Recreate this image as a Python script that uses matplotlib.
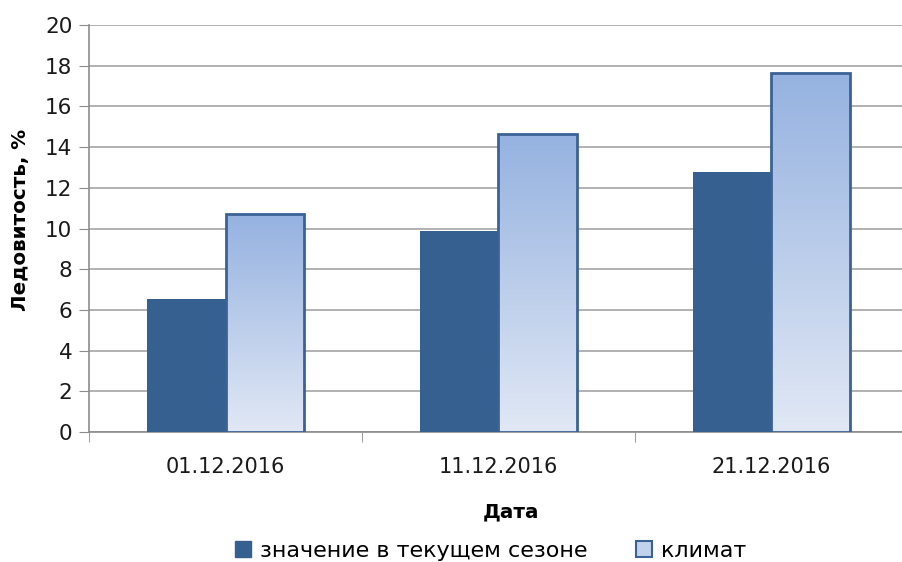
import numpy as np
import matplotlib.pyplot as plt
from matplotlib.patches import Patch

dates = ["01.12.2016", "11.12.2016", "21.12.2016"]
current = [6.56, 9.87, 12.76]
climate = [10.69, 14.63, 17.66]

dark = "#36608f"
edge = "#3b6296"

plt.rcParams['font.family'] = ['DejaVu Sans']

fig = plt.figure(figsize=(9.02, 5.62), dpi=100)
ax = fig.add_axes([0.0987, 0.2313, 0.9079, 0.7242])

x = np.arange(len(dates))
w = 0.286

ax.bar(x - w / 2, current, w, color=dark, zorder=3)
bars = ax.bar(x + w / 2, climate, w, facecolor="none", edgecolor=edge, linewidth=2, zorder=4)

# vertical gradient inside the climate bars
grad = np.linspace(0, 1, 256).reshape(-1, 1)
cmap = plt.matplotlib.colors.LinearSegmentedColormap.from_list("g", ["#e1e8f5", "#95b2e0"])
for b in bars:
    x0, y0 = b.get_x(), b.get_y()
    im = ax.imshow(grad, extent=[x0, x0 + b.get_width(), y0, y0 + b.get_height()],
                   origin="lower", aspect="auto", cmap=cmap, zorder=3)
    im.set_clip_path(b)

ax.set_xlim(-0.5, 2.5)
ax.set_ylim(0, 20)
ax.set_yticks(range(0, 21, 2))
ax.set_xticks(x)
ax.set_xticklabels(dates)
ax.set_xticks([-0.5, 0.5, 1.5, 2.5], minor=True)
ax.tick_params(axis="x", which="major", length=0, pad=18, labelsize=15, colors="#1a1a1a")
ax.tick_params(axis="x", which="minor", length=7, color="#8c8c8c")
ax.tick_params(axis="y", length=7, color="#8c8c8c", labelsize=15.5, pad=5, labelcolor="#1a1a1a")

ax.yaxis.grid(True, color="#ababab", linewidth=1.3, zorder=0)
ax.set_axisbelow(True)
for s in ["top", "right"]:
    ax.spines[s].set_visible(False)
for s in ["left", "bottom"]:
    ax.spines[s].set_color("#8c8c8c")
    ax.spines[s].set_linewidth(1.2)

ax.set_ylabel("Ледовитость, %", fontsize=14.3, fontweight="bold", va="center")
ax.yaxis.set_label_coords(-0.084, 0.52)
ax.set_xlabel("Дата", fontsize=14.3, fontweight="bold", va="center")
ax.xaxis.set_label_coords(0.515, -0.197)

handles = [Patch(facecolor=dark, edgecolor=dark),
           Patch(facecolor="#c3d2ec", edgecolor=edge, linewidth=1.5)]
fig.legend(handles, ["значение в текущем сезоне", "климат"], loc="center",
           bbox_to_anchor=(0.544, 0.02), ncol=2, frameon=False, fontsize=16,
           handlelength=0.7, handleheight=0.7, handletextpad=0.4, columnspacing=2.2)

fig.savefig("out.png", dpi=100)
